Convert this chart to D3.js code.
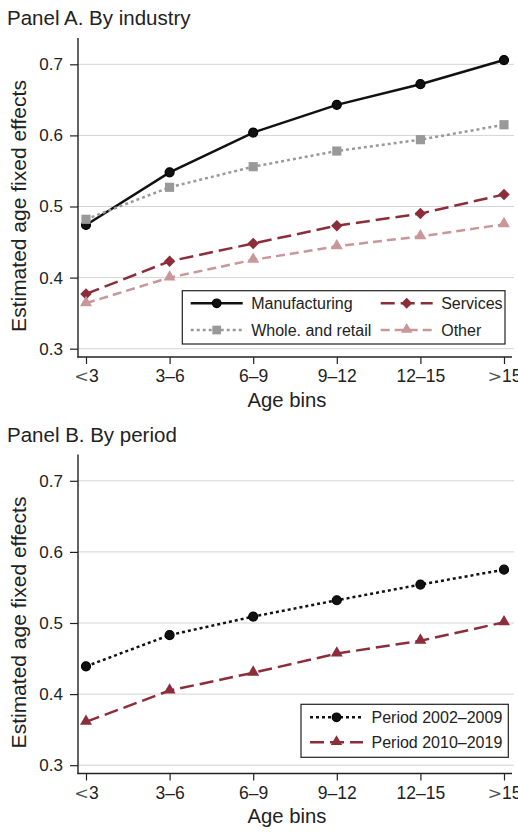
<!DOCTYPE html>
<meta charset="utf-8">
<head>
<style>
body { margin: 0; background: #fff; }
svg text { font-family: "Liberation Sans", Arial, Helvetica, sans-serif; fill: #222; }
.grid line { stroke: #d4d4d4; stroke-width: 1; }
.axis path { display: none; }
.axis line { stroke: #222; stroke-width: 1.2; }
.axis text { font-size: 17.5px; }
.yaxis text { font-size: 17px; }
</style>
</head>
<body>
<div id="chart"></div>
<script src="https://d3js.org/d3.v7.min.js"></script>
<script>

// age bins on the x axis
var ageBins = ["<3", "3–6", "6–9", "9–12", "12–15", ">15"];
var yTicks = [0.3, 0.4, 0.5, 0.6, 0.7];

// Panel A, by industry
var manufacturing = [0.474, 0.548, 0.604, 0.643, 0.672, 0.706];
var wholeRetail   = [0.482, 0.527, 0.556, 0.578, 0.594, 0.615];
var services      = [0.377, 0.423, 0.448, 0.473, 0.490, 0.517];
var other         = [0.364, 0.400, 0.425, 0.444, 0.458, 0.475];

// Panel B, by period
var period0209 = [0.439, 0.483, 0.509, 0.532, 0.554, 0.575];
var period1019 = [0.361, 0.405, 0.430, 0.457, 0.475, 0.501];

var svg = d3.select("#chart")
  .append("svg")
    .attr("width", 518)
    .attr("height", 832);

var x = d3.scalePoint()
  .domain(ageBins)
  .range([86, 504]);

// same vertical scale in each panel (panel B is shifted down)
var y = d3.scaleLinear()
  .domain([0.3, 0.7])
  .range([348.7, 64.3]);

var panelA = [
  {name: "Manufacturing", values: manufacturing, color: "#111", dash: null, symbol: "circle", col: 0, row: 0},
  {name: "Whole. and retail", values: wholeRetail, color: "#999", dash: "3,3", symbol: "square", col: 0, row: 1},
  {name: "Services", values: services, color: "#8b2e3a", dash: "14,6", symbol: "diamond", col: 1, row: 0},
  {name: "Other", values: other, color: "#c9969a", dash: "9,5", symbol: "triangle", col: 1, row: 1}
];

var panelB = [
  {name: "Period 2002–2009", values: period0209, color: "#111", dash: "3,3", symbol: "circle", col: 0, row: 0},
  {name: "Period 2010–2019", values: period1019, color: "#8b2e3a", dash: "14,6", symbol: "triangle", col: 0, row: 1}
];

function marker(sel, type, scale) {
  scale = scale || 1;
  if (type == "circle") {
    sel.append("circle").attr("r", 4.5 * scale).attr("fill", "#111").attr("stroke", "#000").attr("stroke-width", 1.2);
  } else if (type == "square") {
    sel.append("path").attr("d", d3.symbol().type(d3.symbolSquare).size(84 * scale * scale));
  } else if (type == "diamond") {
    sel.append("path").attr("d", d3.symbol().type(d3.symbolSquare).size(66 * scale * scale))
      .attr("transform", "rotate(45)");
  } else {
    sel.append("path").attr("d", d3.symbol().type(d3.symbolTriangle).size(62 * scale * scale))
      .attr("transform", "translate(0,-0.5)");
  }
}

function drawPanel(offset, title, series, legend) {
  var g = svg.append("g").attr("transform", "translate(0," + offset + ")");

  g.append("text")
    .attr("x", 7).attr("y", 25)
    .style("font-size", "20.5px")
    .text(title);

  // gridlines
  g.append("g").attr("class", "grid")
    .selectAll("line")
    .data(yTicks)
    .enter().append("line")
      .attr("x1", 78).attr("x2", 514)
      .attr("y1", function(d) { return y(d); })
      .attr("y2", function(d) { return y(d); });

  // y axis
  g.append("g")
    .attr("class", "axis yaxis")
    .attr("transform", "translate(78,0)")
    .call(d3.axisLeft(y).tickValues(yTicks).tickFormat(d3.format(".1f")).tickSize(8).tickPadding(7));
  g.append("line")
    .attr("x1", 78).attr("x2", 78).attr("y1", 38).attr("y2", 357.5)
    .attr("stroke", "#222").attr("stroke-width", 1.4);

  // x axis
  var xa = g.append("g")
    .attr("class", "axis")
    .attr("transform", "translate(0,357)")
    .call(d3.axisBottom(x).tickSize(7).tickPadding(6));
  xa.selectAll(".tick text").each(function(d) {
    var t = d3.select(this);
    if (d[0] == "<" || d[0] == ">") {
      t.text(null);
      t.append("tspan").style("font-family", "'DejaVu Serif', 'Liberation Serif', serif")
        .style("font-weight", "200").style("fill", "#555").text(d[0]);
      t.append("tspan").text(d.slice(1));
    }
  });
  g.append("line")
    .attr("x1", 77.3).attr("x2", 512).attr("y1", 357).attr("y2", 357)
    .attr("stroke", "#222").attr("stroke-width", 1.4);

  g.append("text")
    .attr("x", 287).attr("y", 406.5)
    .attr("text-anchor", "middle")
    .style("font-size", "20.3px")
    .text("Age bins");

  g.append("text")
    .attr("transform", "translate(26,206) rotate(-90)")
    .attr("text-anchor", "middle")
    .style("font-size", "21px")
    .text("Estimated age fixed effects");

  var line = d3.line()
    .x(function(d, i) { return x(ageBins[i]); })
    .y(function(d) { return y(d); });

  series.forEach(function(s) {
    g.append("path")
      .datum(s.values)
      .attr("d", line)
      .attr("fill", "none")
      .attr("stroke", s.color)
      .attr("stroke-width", 2.5)
      .attr("stroke-dasharray", s.dash);

    g.selectAll(null)
      .data(s.values)
      .enter().append("g")
        .attr("transform", function(d, i) { return "translate(" + x(ageBins[i]) + "," + y(d) + ")"; })
        .attr("fill", s.color)
        .each(function() { marker(d3.select(this), s.symbol); });
  });

  // legend box
  g.append("rect")
    .attr("x", legend.x).attr("y", legend.y)
    .attr("width", legend.w).attr("height", legend.h)
    .attr("fill", "#fff").attr("stroke", "#222").attr("stroke-width", 1.2);

  series.forEach(function(s) {
    var cx = legend.cols[s.col];
    var cy = legend.rows[s.row];
    var item = g.append("g").attr("transform", "translate(" + cx + "," + cy + ")");
    item.append("line")
      .attr("x1", 0).attr("x2", legend.lineW)
      .attr("stroke", s.color).attr("stroke-width", 2.5)
      .attr("stroke-dasharray", s.dash);
    var m = item.append("g")
      .attr("transform", "translate(" + legend.lineW / 2 + ",0)")
      .attr("fill", s.color);
    marker(m, s.symbol, 0.95);
    item.append("text")
      .attr("x", legend.lineW + 8.5).attr("y", 5.6)
      .style("font-size", "16px")
      .text(s.name);
  });
}

drawPanel(0, "Panel A. By industry", panelA,
  {x: 182.3, y: 290.7, w: 322.7, h: 53.3, cols: [190.7, 380.7], rows: [303.3, 330], lineW: 52});

drawPanel(416.5, "Panel B. By period", panelB,
  {x: 301, y: 287.8, w: 207.3, h: 53, cols: [310], rows: [300.8, 325.8], lineW: 53});

</script>
</body>
</html>
